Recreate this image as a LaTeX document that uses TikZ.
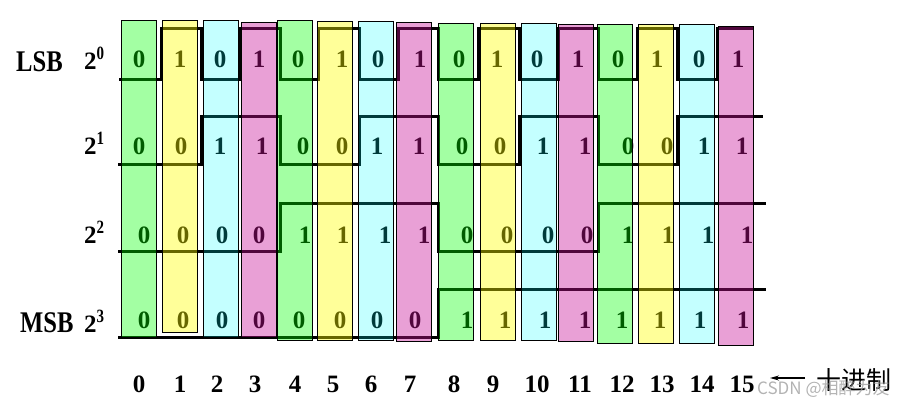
\documentclass[tikz,border=0pt]{standalone}
\usepackage{fontspec}
\setmainfont{Liberation Serif}
\newfontfamily\cjk{Noto Sans CJK SC}
\usetikzlibrary{arrows.meta}
\definecolor{cG}{RGB}{0,255,0}
\definecolor{cY}{RGB}{255,255,0}
\definecolor{cC}{RGB}{0,255,255}
\definecolor{cP}{RGB}{200,17,152}
\tikzset{
  sig/.style={draw=black, line width=3pt},
  barG/.style={draw=black, line width=0.9pt, fill=cG, fill opacity=0.36},
  barY/.style={draw=black, line width=0.9pt, fill=cY, fill opacity=0.40},
  barC/.style={draw=black, line width=0.9pt, fill=cC, fill opacity=0.23},
  barP/.style={draw=black, line width=0.9pt, fill=cP, fill opacity=0.40},
  dig/.style={anchor=base, inner sep=0pt, font=\fontsize{25}{25}\selectfont\bfseries},
  lbl/.style={anchor=base west, inner sep=0pt, font=\fontsize{25}{25}\selectfont\bfseries},
}
\newcommand{\supnum}[1]{\raisebox{10pt}{\scalebox{1}[1.25]{\fontsize{15}{15}\selectfont #1}}}
\newcommand{\condensed}[1]{\scalebox{0.82}[1]{\fontsize{30}{30}\selectfont #1}}
\begin{document}
\begin{tikzpicture}[x=1pt,y=-1pt]
\useasboundingbox (0,0) rectangle (900,404);
% signal lines
\draw[sig] (119,80) -- (161,80) -- (161,29) -- (201,29) -- (201,80) -- (240,80) -- (240,29) -- (280,29) -- (280,80) -- (318,80) -- (318,29) -- (359,29) -- (359,80) -- (398,80) -- (398,29) -- (438,29) -- (438,80) -- (478,80) -- (478,29) -- (519,29) -- (519,80) -- (558,80) -- (558,29) -- (598,29) -- (598,80) -- (637,80) -- (637,29) -- (677,29) -- (677,80) -- (717,80) -- (717,29) -- (754,29);
\draw[sig] (118,164) -- (201,164) -- (201,116) -- (280,116) -- (280,164) -- (359,164) -- (359,116) -- (438,116) -- (438,164) -- (519,164) -- (519,116) -- (598,116) -- (598,164) -- (677,164) -- (677,116) -- (763,116);
\draw[sig] (118,251) -- (280,251) -- (280,203) -- (438,203) -- (438,251) -- (598,251) -- (598,203) -- (766,203);
\draw[sig] (118,337) -- (438,337) -- (438,289) -- (766,289);
% digits
\foreach \x/\b [count=\i from 0] in {139/0,180/1,220/0,259/1,298/0,342/1,378/0,420/1,459/0,497/1,537/0,578/1,618/0,657/1,699/0,738/1}
  \node[dig] (ra\i) at (\x,68) {\b};
\foreach \x/\b [count=\i from 0] in {139/0,181/0,220/1,262/1,303/0,342/0,377/1,419/1,462/0,500/0,543/1,585/1,628/0,667/0,704/1,742/1}
  \node[dig] (rb\i) at (\x,154) {\b};
\foreach \x/\b [count=\i from 0] in {144/0,183/0,222/0,259/0,305/1,343/1,385/1,424/1,467/0,507/0,548/0,587/0,628/1,668/1,708/1,747/1}
  \node[dig] (rc\i) at (\x,243) {\b};
\foreach \x/\b [count=\i from 0] in {144/0,183/0,222/0,259/0,299/0,340/0,377/0,415/0,467/1,505/1,545/1,585/1,622/1,660/1,700/1,743/1}
  \node[dig] (rd\i) at (\x,328) {\b};
% bars
\foreach \l/\t/\bt/\s [count=\i from 0] in {121/20/337/barG,162/20/332/barY,203/20/337/barC,241/22/337/barP,277/20/340/barG,317/21/340/barY,358/21/340/barC,396/22/341/barP,438/23/340/barG,480/23/340/barY,521/23/340/barC,558/24/341/barP,597/24/343/barG,638/24/343/barY,679/24/343/barC,718/26/345/barP}
  \path[\s] (\l,\t) rectangle (\l+35,\bt);
% decimal labels
\foreach \x [count=\i from 0] in {139,180,217,255,295,333,371,410,454,493,537,580,622,662,702,742}
  \node[dig] (dec\i) at (\x,392) {\i};
% left labels
\node[anchor=base west, inner sep=0pt, font=\bfseries] (lsb) at (16,72) {\condensed{LSB}};
\node[anchor=base west, inner sep=0pt, font=\bfseries] (msb) at (20,332) {\condensed{MSB}};
\node[lbl] (p0) at (84,70) {2\supnum{0}};
\node[lbl] (p1) at (84,154) {2\supnum{1}};
\node[lbl] (p2) at (84,243) {2\supnum{2}};
\node[lbl] (p3) at (84,332) {2\supnum{3}};
% decimal marker
\node[anchor=west, inner sep=0pt, font=\cjk\fontsize{25}{25}\selectfont] (shi) at (816,380) {十进制};
\coordinate (arrtip) at (770,378);
\draw[line width=1.3pt, -{Stealth[length=9pt,width=5pt]}, shorten <=11pt] (shi.west |- arrtip) -- (arrtip);
% watermark
\node[anchor=west, inner sep=0pt, text=black!40, text opacity=0.75, font=\cjk\fontsize{17}{17}\selectfont] (wm) at (757,389) {CSDN @相醉为友};
\end{tikzpicture}
\end{document}
